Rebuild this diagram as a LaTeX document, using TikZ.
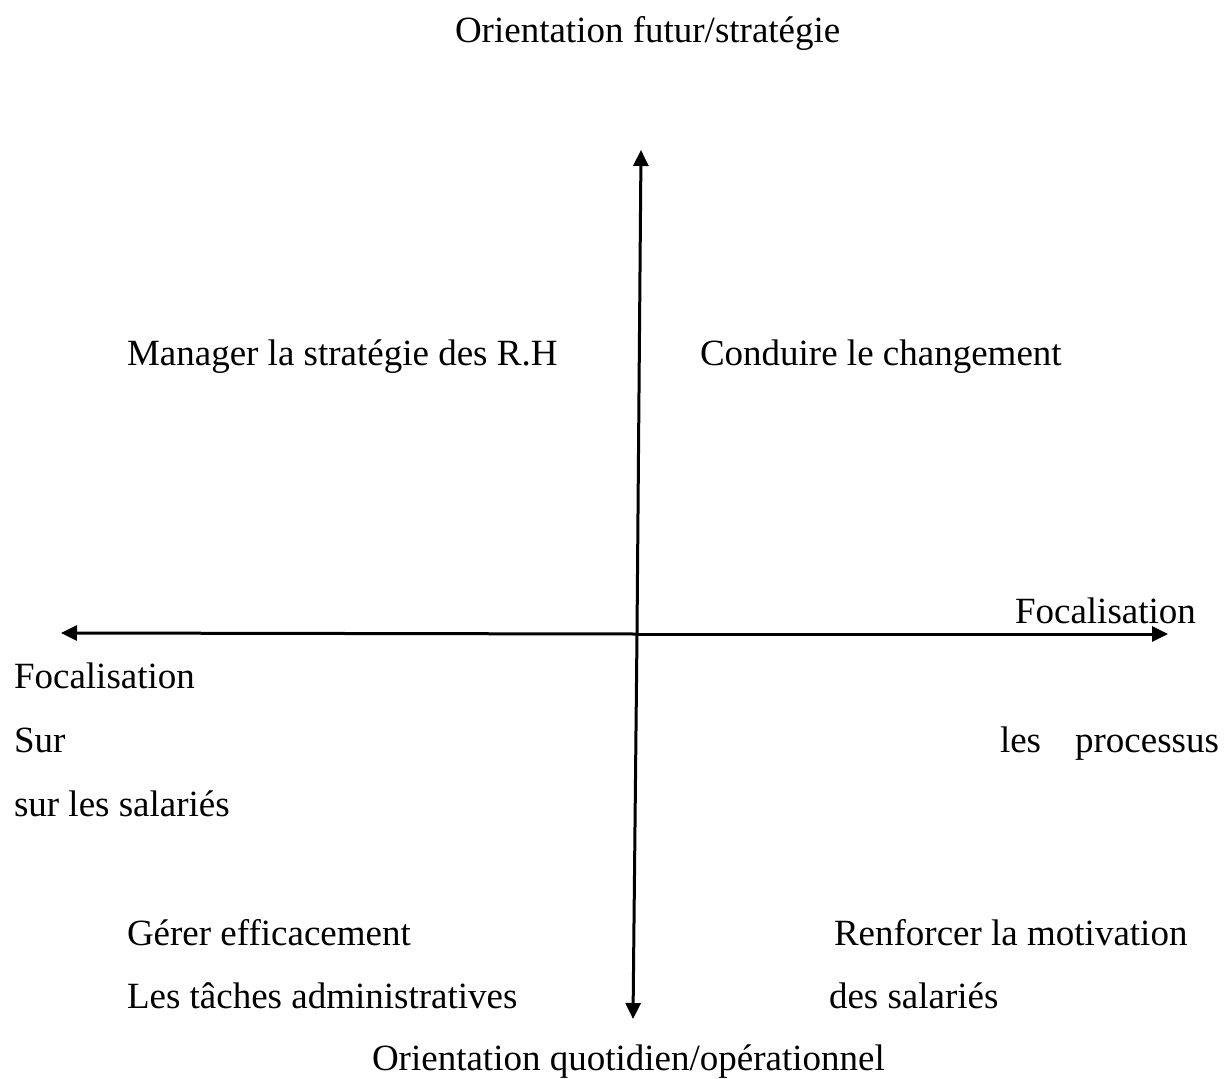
\documentclass[tikz,border=0pt]{standalone}
\usepackage{fontspec}
\setmainfont{Liberation Serif}
\usetikzlibrary{arrows.meta}
\begin{document}
\begin{tikzpicture}[x=1pt,y=-1pt,
  lbl/.style={anchor=base west,inner sep=0pt,outer sep=0pt,font=\fontsize{37}{44}\selectfont},
  axis/.style={line width=3pt,-{Triangle[length=16pt,width=15pt]}}]
\useasboundingbox (0,0) rectangle (1224,1079);
\fill[white] (0,0) rectangle (1224,1079);
% axes end points
\coordinate (vtop) at (641,150);
\coordinate (vbot) at (633,1019);
\coordinate (hleft) at (61,633);
\coordinate (hright) at (1168,634);
\coordinate (vmid) at (637,634);
\coordinate (hmid) at (637,634);
\draw[axis] (vmid) -- (vtop);
\draw[axis] (vmid) -- (vbot);
\draw[axis] (hmid) -- (hleft);
\draw[axis] (hmid) -- (hright);
% axis titles
\node[lbl] (top) at (455,42) {Orientation futur/stratégie};
\node[lbl] (bottom) at (372,1070) {Orientation quotidien/opérationnel};
\node[lbl] (fright) at (1015,623) {Focalisation};
\node[lbl] (fleft1) at (14,688) {Focalisation};
\node[lbl] (fleft2) at (14,752) {Sur};
\node[lbl] (fleft3) at (14,816) {sur les salariés};
\node[lbl] (proc) at (1000,752) {\makebox[219pt][s]{les processus}};
% quadrant labels
\node[lbl] (q1) at (127,365) {Manager la stratégie des R.H};
\node[lbl] (q2) at (700,365) {Conduire le changement};
\node[lbl] (q3a) at (127,945) {Gérer efficacement};
\node[lbl] (q3b) at (127,1008) {Les tâches administratives};
\node[lbl] (q4a) at (834,945) {Renforcer la motivation};
\node[lbl] (q4b) at (829,1008) {des salariés};
\end{tikzpicture}
\end{document}
